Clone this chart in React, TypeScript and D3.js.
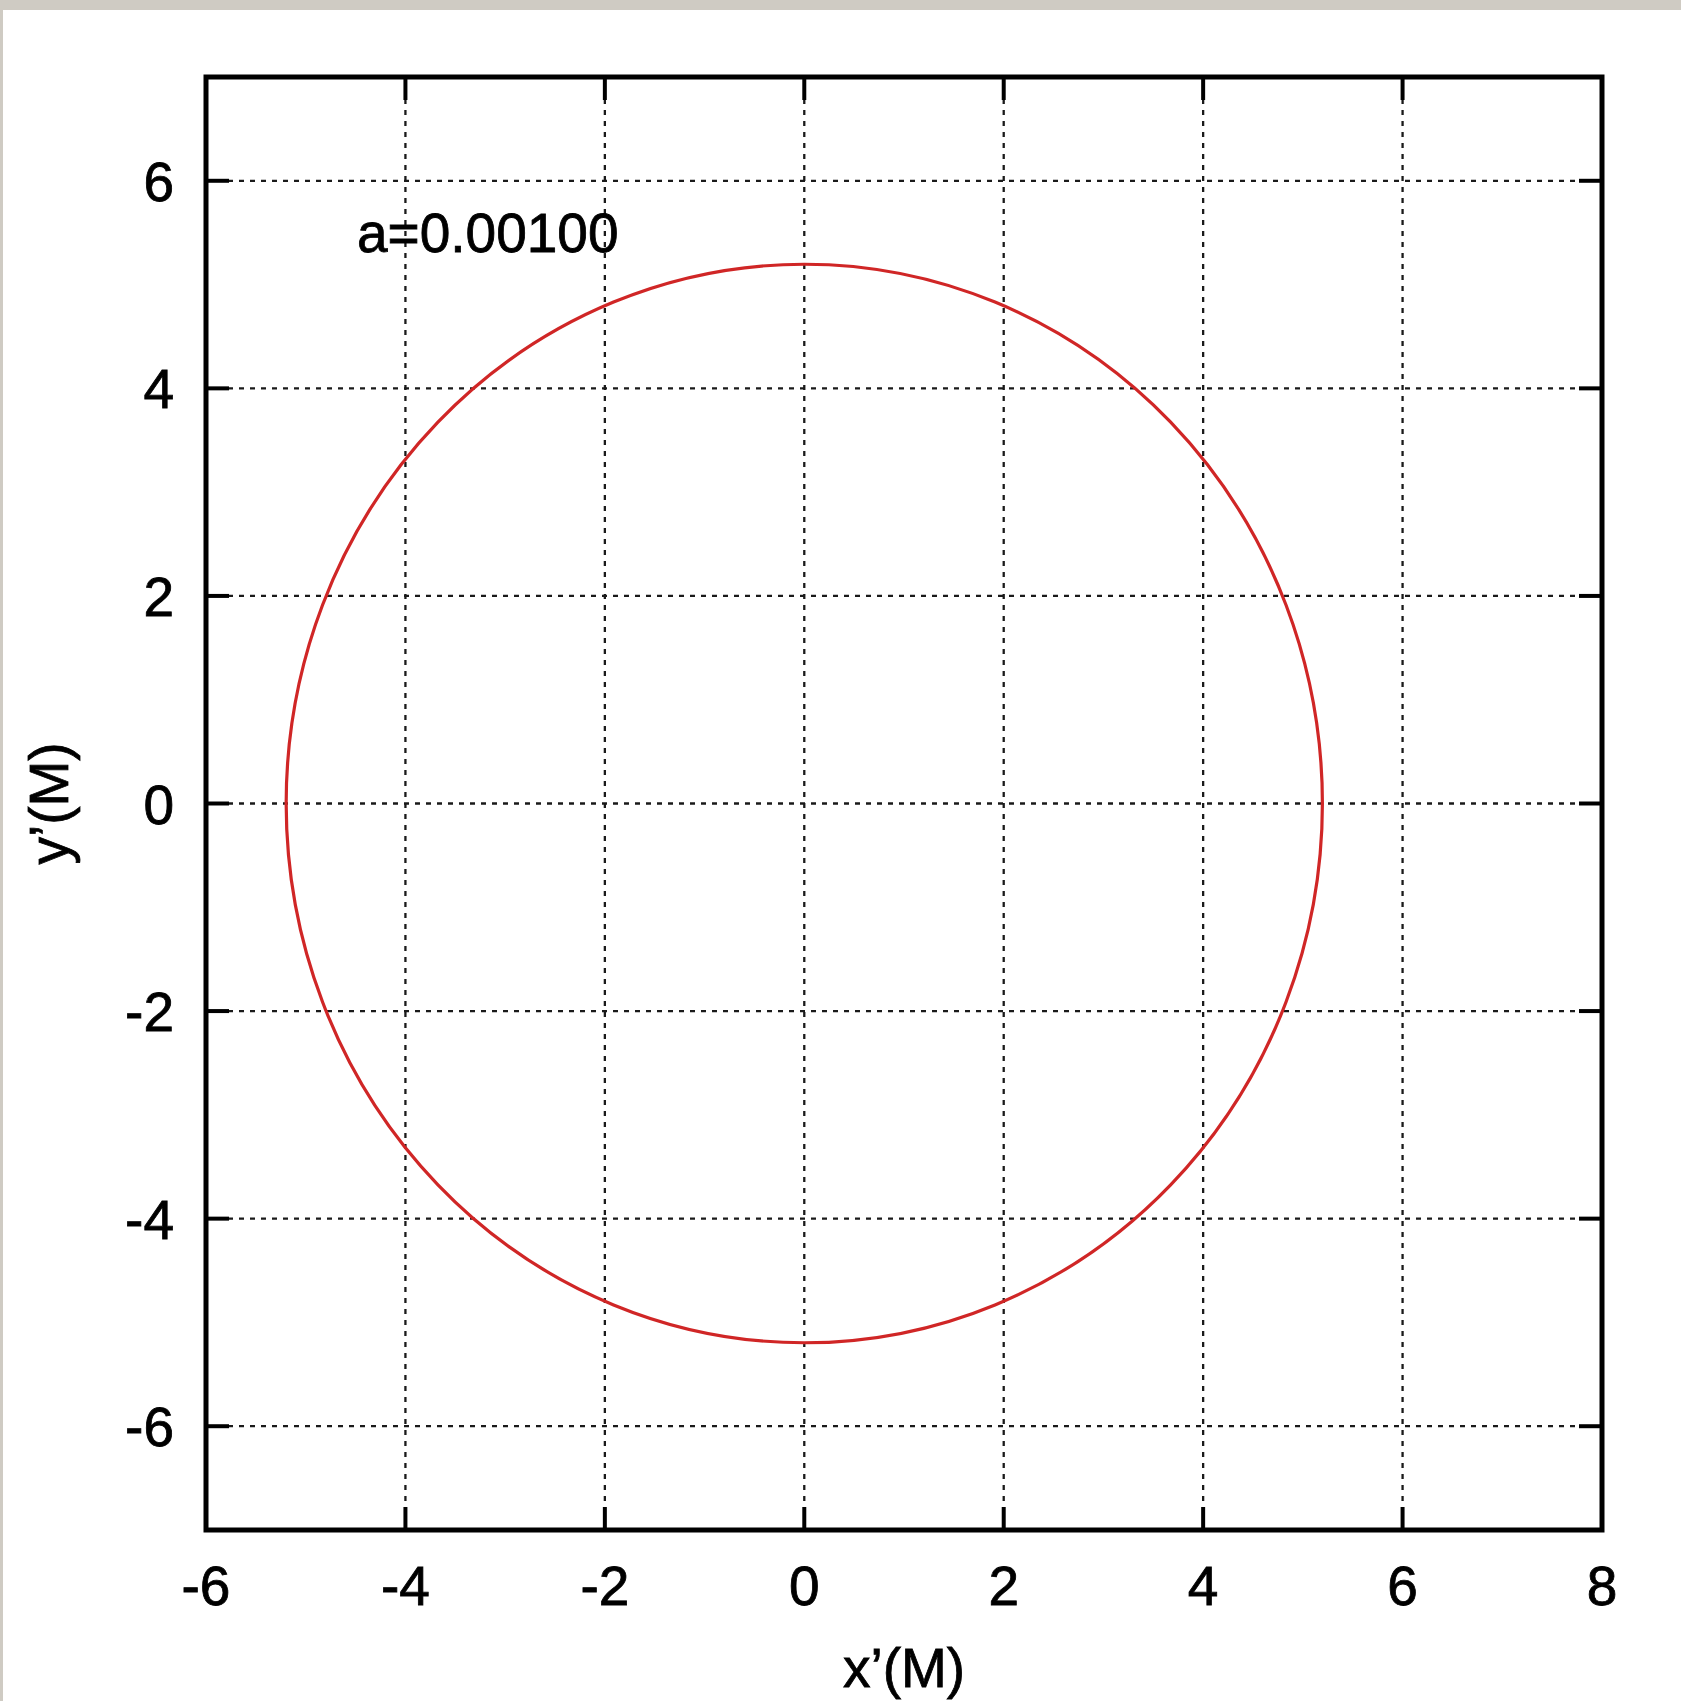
import { useEffect, useRef } from 'react';
import * as d3 from 'd3';

const WIDTH = 1681;
const HEIGHT = 1701;
const PLOT = { left: 206, right: 1602, top: 77, bottom: 1530 };

const X_DOMAIN = [-6, 8];
const Y_DOMAIN = [-7, 7];
const X_TICKS = [-6, -4, -2, 0, 2, 4, 6, 8];
const Y_TICKS = [-6, -4, -2, 0, 2, 4, 6];

// shadow outline of the hole: centre and radius in M
const SHADOW_CENTER = [0, 0];
const SHADOW_RADIUS = [5.196];
const SPIN_LABEL = 'a=0.00100';

const FONT = "'Liberation Sans', Arial, Helvetica, sans-serif";
const FONT_SIZE = 55;

export default function App() {
  const svgRef = useRef<SVGSVGElement | null>(null);

  useEffect(() => {
    document.body.style.margin = '0';
    const svg = d3.select(svgRef.current);
    svg.selectAll('*').remove();

    const x = d3.scaleLinear().domain(X_DOMAIN).range([PLOT.left, PLOT.right]);
    const y = d3.scaleLinear().domain(Y_DOMAIN).range([PLOT.bottom, PLOT.top]);

    // paper background
    svg.append('rect').attr('width', WIDTH).attr('height', HEIGHT).attr('fill', '#cfcbc3');
    svg.append('rect').attr('x', 3).attr('y', 10).attr('width', WIDTH).attr('height', HEIGHT).attr('fill', '#ffffff');

    // dotted grid
    const grid = svg.append('g').attr('stroke', '#1a1a1a').attr('stroke-width', 2.3).attr('stroke-dasharray', '5,6');
    grid.selectAll('.gx')
      .data(X_TICKS.filter((t) => t > X_DOMAIN[0] && t < X_DOMAIN[1]))
      .join('line')
      .attr('x1', (d) => x(d)).attr('x2', (d) => x(d))
      .attr('y1', PLOT.top).attr('y2', PLOT.bottom);
    grid.selectAll('.gy')
      .data(Y_TICKS)
      .join('line')
      .attr('y1', (d) => y(d)).attr('y2', (d) => y(d))
      .attr('x1', PLOT.left).attr('x2', PLOT.right);

    // major ticks, mirrored on all four sides
    const TL = 23;
    const ticks = svg.append('g').attr('stroke', '#000').attr('stroke-width', 4);
    X_TICKS.forEach((t) => {
      ticks.append('line').attr('x1', x(t)).attr('x2', x(t)).attr('y1', PLOT.bottom).attr('y2', PLOT.bottom - TL);
      ticks.append('line').attr('x1', x(t)).attr('x2', x(t)).attr('y1', PLOT.top).attr('y2', PLOT.top + TL);
    });
    Y_TICKS.forEach((t) => {
      ticks.append('line').attr('y1', y(t)).attr('y2', y(t)).attr('x1', PLOT.left).attr('x2', PLOT.left + TL);
      ticks.append('line').attr('y1', y(t)).attr('y2', y(t)).attr('x1', PLOT.right).attr('x2', PLOT.right - TL);
    });

    // shadow curve
    svg.append('ellipse')
      .attr('cx', x(SHADOW_CENTER[0]))
      .attr('cy', y(SHADOW_CENTER[1]))
      .attr('rx', x(SHADOW_RADIUS[0]) - x(0))
      .attr('ry', y(0) - y(SHADOW_RADIUS[0]))
      .attr('fill', 'none')
      .attr('stroke', '#d02626')
      .attr('stroke-width', 3.2);

    // frame
    svg.append('rect')
      .attr('x', PLOT.left).attr('y', PLOT.top)
      .attr('width', PLOT.right - PLOT.left).attr('height', PLOT.bottom - PLOT.top)
      .attr('fill', 'none').attr('stroke', '#000').attr('stroke-width', 5);

    const text = svg.append('g')
      .attr('font-family', FONT)
      .attr('font-size', FONT_SIZE)
      .attr('fill', '#000')
      .attr('stroke', '#000')
      .attr('stroke-width', 0.8);

    text.selectAll('.xl')
      .data(X_TICKS)
      .join('text')
      .attr('x', (d) => x(d))
      .attr('y', 1605)
      .attr('text-anchor', 'middle')
      .text((d) => String(d));

    text.selectAll('.yl')
      .data(Y_TICKS)
      .join('text')
      .attr('x', 174)
      .attr('y', (d) => y(d) + 20)
      .attr('text-anchor', 'end')
      .text((d) => String(d));

    text.append('text')
      .attr('x', (PLOT.left + PLOT.right) / 2)
      .attr('y', 1687)
      .attr('text-anchor', 'middle')
      .text('x\u2019(M)');

    text.append('text')
      .attr('transform', `translate(68,${y(0)}) rotate(-90)`)
      .attr('text-anchor', 'middle')
      .text('y\u2019(M)');

    text.append('text')
      .attr('x', 357)
      .attr('y', 252)
      .text(SPIN_LABEL);
  }, []);

  return <svg ref={svgRef} width={WIDTH} height={HEIGHT} style={{ display: 'block' }} />;
}
